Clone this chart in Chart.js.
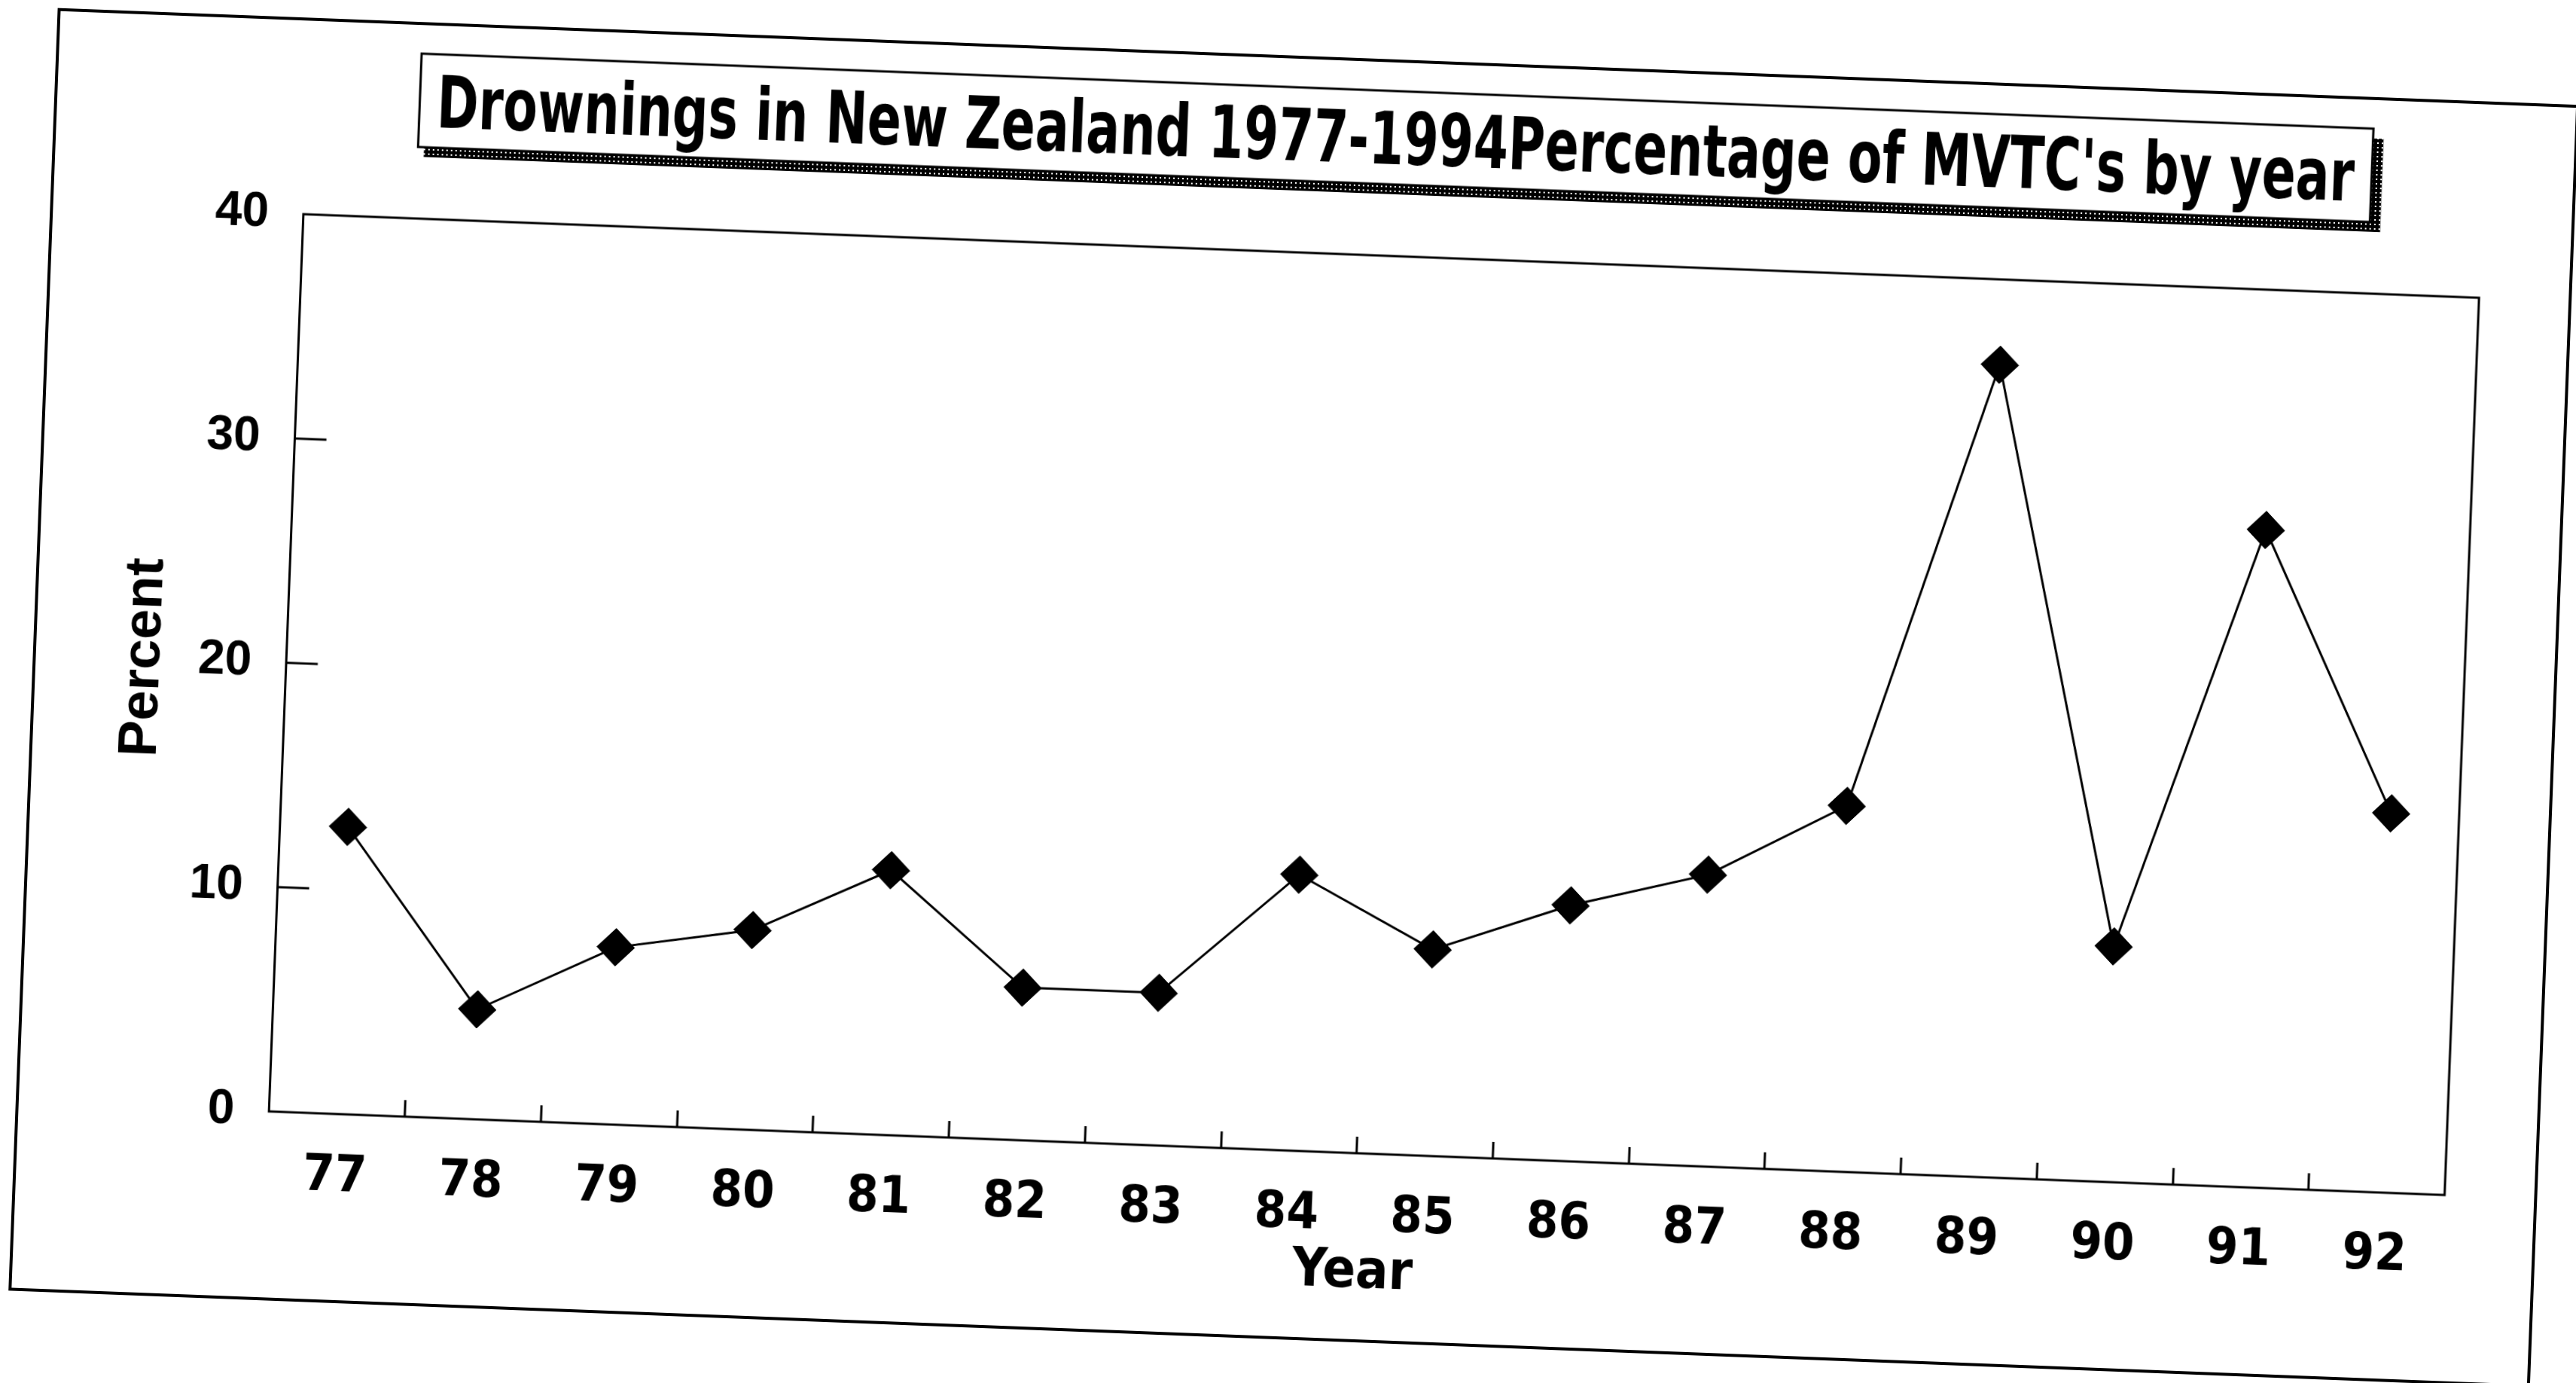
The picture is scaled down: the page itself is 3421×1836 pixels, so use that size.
<!DOCTYPE html>
<html>
<head>
<meta charset="utf-8">
<script src="https://cdn.jsdelivr.net/npm/chart.js@4.4.1/dist/chart.umd.min.js"></script>
<style>
  html, body { margin: 0; padding: 0; background: #fff; overflow: hidden; }
  #wrap { width: 3421px; height: 1836px; transform: rotate(2.2deg); transform-origin: 50% 50%; }
</style>
</head>
<body>
<div id="wrap"><canvas id="myChart" width="3421" height="1836"></canvas></div>
<script>
var years = ['77', '78', '79', '80', '81', '82', '83', '84', '85', '86', '87', '88', '89', '90', '91', '92'];
var percent = [12.8, 4.9, 7.9, 8.9, 11.8, 6.8, 6.8, 12.3, 9.2, 11.4, 13.0, 16.3, 36.2, 10.5, 29.3, 16.9];
var yTicks = [0, 10, 20, 30, 40];
var chartTitle = "Drownings in New Zealand 1977-1994Percentage of MVTC's by year";

var narrow = '"Liberation Sans Narrow", "DejaVu Sans Condensed", "Arial Narrow", sans-serif';
var wide = '"Liberation Sans", Arial, sans-serif';

var myChart;

function shadowPattern(ctx) {
    var c = document.createElement('canvas');
    c.width = 6; c.height = 6;
    var p = c.getContext('2d');
    p.fillStyle = '#000';
    p.fillRect(0, 0, 6, 6);
    p.fillStyle = '#fff';
    p.fillRect(2, 2, 2, 2);
    return ctx.createPattern(c, 'repeat');
}

// page border, boxed title with dotted shadow, plot frame and inward ticks
var paperPlugin = {
    id: 'paper',
    beforeDraw: function (chart) {
        var ctx = chart.ctx;
        var a = chart.chartArea;
        ctx.save();
        ctx.fillStyle = '#fff';
        ctx.fillRect(0, 0, chart.width, chart.height);
        ctx.strokeStyle = '#000';
        ctx.lineWidth = 4;
        ctx.strokeRect(45, 76, chart.width - 74, chart.height - 136);

        // title, squeezed like the condensed face of the original
        var textW = 2548;
        var w = textW + 46, h = 124;
        var x = (a.left + a.right) / 2 - w / 2;
        var y = a.top - 219;
        ctx.fillStyle = shadowPattern(ctx);
        ctx.fillRect(x + 8, y + 13, w + 6, h);
        ctx.fillStyle = '#fff';
        ctx.fillRect(x, y, w, h);
        ctx.lineWidth = 3;
        ctx.strokeRect(x, y, w, h);
        ctx.fillStyle = '#000';
        ctx.font = 'bold 97px ' + narrow;
        ctx.textAlign = 'center';
        ctx.textBaseline = 'alphabetic';
        ctx.fillText(chartTitle, x + w / 2, y + h / 2 + 35, textW);
        ctx.restore();
    },
    beforeDatasetsDraw: function (chart) {
        var ctx = chart.ctx;
        var a = chart.chartArea;
        var xs = chart.scales.x, ys = chart.scales.y;
        ctx.save();
        ctx.strokeStyle = '#000';
        ctx.lineWidth = 3;
        ctx.strokeRect(a.left, a.top, a.right - a.left, a.bottom - a.top);
        ctx.beginPath();
        var half = (xs.getPixelForValue(1) - xs.getPixelForValue(0)) / 2;
        for (var i = 1; i < years.length; i++) {
            var px = Math.round(xs.getPixelForValue(i) - half);
            ctx.moveTo(px, a.bottom);
            ctx.lineTo(px, a.bottom - 22);
        }
        for (var j = 1; j < yTicks.length - 1; j++) {
            var py = Math.round(ys.getPixelForValue(yTicks[j]));
            ctx.moveTo(a.left, py);
            ctx.lineTo(a.left + 42, py);
        }
        ctx.stroke();
        ctx.restore();
    }
};

function createChart() {
    var ctx = document.getElementById('myChart').getContext('2d');
    myChart = new Chart(ctx, {
        type: 'line',
        data: {
            labels: years,
            datasets: [{
                data: percent,
                borderColor: '#000',
                borderWidth: 3,
                backgroundColor: '#000',
                pointStyle: 'rectRot',
                pointRadius: 25,
                pointBorderWidth: 1,
                tension: 0,
                fill: false
            }]
        },
        options: {
            responsive: false,
            animation: false,
            devicePixelRatio: 1,
            layout: { padding: { left: 148, right: 150, top: 335, bottom: 107 } },
            plugins: {
                legend: { display: false },
                tooltip: { enabled: false },
                title: { display: false }
            },
            scales: {
                x: {
                    type: 'category',
                    offset: true,
                    grid: { display: false, drawTicks: false },
                    border: { display: false },
                    ticks: {
                        color: '#000',
                        padding: 44,
                        maxRotation: 0,
                        font: { family: narrow, size: 68, weight: 'bold' }
                    },
                    title: {
                        display: true,
                        text: 'Year',
                        color: '#000',
                        padding: { top: -54, bottom: 0 },
                        font: { family: narrow, size: 72, weight: 'bold' }
                    }
                },
                y: {
                    min: 0,
                    max: 40,
                    grid: { display: false, drawTicks: false },
                    border: { display: false },
                    afterBuildTicks: function (scale) {
                        scale.ticks = yTicks.map(function (v) { return { value: v }; });
                    },
                    ticks: {
                        color: '#000',
                        padding: 46,
                        font: { family: wide, size: 64, weight: 'bold' }
                    },
                    title: {
                        display: true,
                        text: 'Percent',
                        color: '#000',
                        padding: { top: 0, bottom: -18 },
                        font: { family: wide, size: 72, weight: 'bold' }
                    }
                }
            }
        },
        plugins: [paperPlugin]
    });
}

document.addEventListener("DOMContentLoaded", function () {
    createChart();
});
</script>
</body>
</html>
